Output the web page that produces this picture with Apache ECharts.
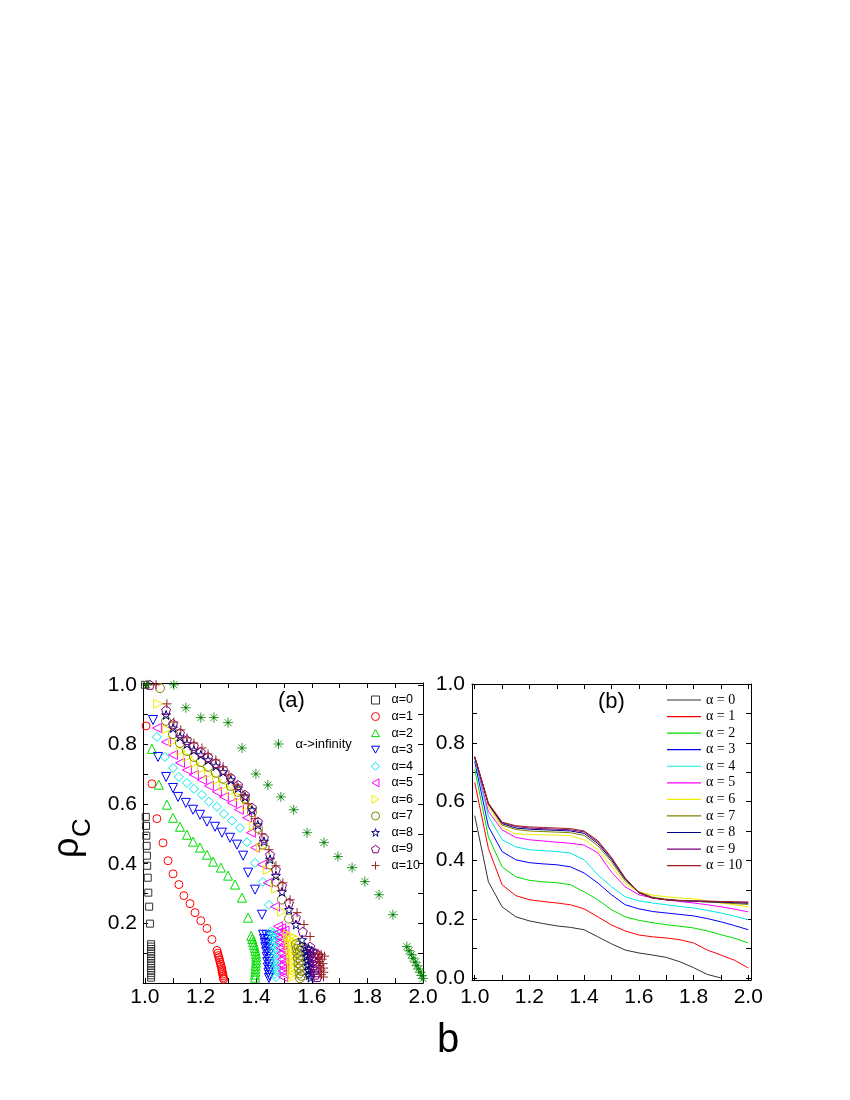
<!DOCTYPE html>
<html><head><meta charset="utf-8">
<script src="https://cdn.jsdelivr.net/npm/echarts@6/dist/echarts.min.js"></script>
<style>html,body{margin:0;padding:0;background:#fff}#c{width:850px;height:1100px}</style>
</head><body><div id="c"></div>
<script>
// ---------- Panel (a): scatter data [b, rho_C] ----------
const a0 = [[1.0,1.0],[1.003,0.557],[1.004,0.527],[1.005,0.494],[1.006,0.46],[1.007,0.427],[1.008,0.393],[1.01,0.353],[1.012,0.303],[1.015,0.256],[1.018,0.199],[1.022,0.13],[1.022,0.122],[1.022,0.114],[1.022,0.106],[1.022,0.098],[1.022,0.09],[1.022,0.082],[1.022,0.074],[1.022,0.066],[1.022,0.058],[1.022,0.05],[1.022,0.042],[1.022,0.034],[1.022,0.026],[1.022,0.018]];
const a1 = [[1.004,0.862],[1.025,0.668],[1.043,0.551],[1.065,0.47],[1.083,0.41],[1.101,0.366],[1.122,0.33],[1.14,0.293],[1.162,0.266],[1.18,0.236],[1.201,0.209],[1.223,0.183],[1.241,0.146],[1.259,0.109],[1.262,0.1],[1.264,0.092],[1.266,0.085],[1.268,0.078],[1.27,0.07],[1.272,0.063],[1.274,0.056],[1.276,0.049],[1.277,0.042],[1.278,0.036],[1.28,0.03],[1.281,0.024],[1.282,0.018],[1.283,0.013]];
const a2 = [[1.025,0.785],[1.05,0.665],[1.079,0.598],[1.101,0.554],[1.126,0.524],[1.151,0.497],[1.173,0.474],[1.198,0.454],[1.223,0.43],[1.245,0.407],[1.273,0.387],[1.299,0.36],[1.324,0.33],[1.349,0.286],[1.371,0.219],[1.382,0.158],[1.386,0.148],[1.389,0.138],[1.392,0.128],[1.395,0.118],[1.397,0.108],[1.399,0.098],[1.4,0.088],[1.4,0.078],[1.399,0.068],[1.398,0.058],[1.397,0.048],[1.397,0.038],[1.396,0.028],[1.396,0.018]];
const a3 = [[1.029,0.882],[1.047,0.758],[1.076,0.691],[1.101,0.654],[1.119,0.624],[1.147,0.604],[1.173,0.581],[1.198,0.564],[1.223,0.541],[1.252,0.524],[1.277,0.504],[1.306,0.487],[1.331,0.464],[1.353,0.427],[1.371,0.37],[1.396,0.313],[1.421,0.229],[1.425,0.162],[1.437,0.16],[1.449,0.156],[1.428,0.148],[1.441,0.145],[1.431,0.134],[1.443,0.13],[1.433,0.12],[1.445,0.115],[1.436,0.105],[1.446,0.098],[1.438,0.088],[1.447,0.08],[1.44,0.07],[1.448,0.062],[1.442,0.052],[1.448,0.044],[1.444,0.035],[1.448,0.026],[1.446,0.017]];
const a4 = [[1.043,0.825],[1.072,0.758],[1.101,0.721],[1.122,0.691],[1.151,0.671],[1.176,0.651],[1.205,0.631],[1.23,0.608],[1.259,0.591],[1.284,0.567],[1.313,0.544],[1.342,0.52],[1.367,0.472],[1.396,0.403],[1.424,0.339],[1.446,0.262],[1.452,0.172],[1.462,0.168],[1.472,0.162],[1.455,0.158],[1.466,0.152],[1.457,0.142],[1.468,0.136],[1.459,0.126],[1.47,0.118],[1.461,0.108],[1.471,0.1],[1.463,0.09],[1.472,0.08],[1.465,0.07],[1.472,0.06],[1.466,0.05],[1.472,0.04],[1.468,0.03],[1.471,0.02]];
const a5 = [[1.043,0.855],[1.076,0.808],[1.101,0.765],[1.126,0.738],[1.151,0.714],[1.176,0.698],[1.205,0.681],[1.23,0.661],[1.259,0.641],[1.284,0.624],[1.313,0.604],[1.338,0.581],[1.367,0.554],[1.381,0.504],[1.396,0.454],[1.421,0.397],[1.442,0.336],[1.468,0.256],[1.478,0.19],[1.49,0.184],[1.502,0.176],[1.481,0.17],[1.494,0.164],[1.484,0.152],[1.496,0.146],[1.486,0.136],[1.498,0.128],[1.488,0.118],[1.499,0.11],[1.49,0.1],[1.5,0.09],[1.492,0.08],[1.501,0.07],[1.493,0.06],[1.5,0.05],[1.495,0.04],[1.5,0.03],[1.497,0.02]];
const a6 = [[1.047,0.936],[1.079,0.851],[1.101,0.811],[1.129,0.778],[1.155,0.758],[1.18,0.738],[1.205,0.718],[1.23,0.701],[1.259,0.681],[1.284,0.661],[1.313,0.644],[1.338,0.624],[1.367,0.594],[1.392,0.527],[1.417,0.454],[1.442,0.379],[1.471,0.316],[1.493,0.239],[1.514,0.162],[1.526,0.158],[1.538,0.152],[1.517,0.148],[1.529,0.142],[1.52,0.132],[1.531,0.125],[1.522,0.115],[1.533,0.108],[1.524,0.098],[1.534,0.09],[1.526,0.08],[1.535,0.07],[1.528,0.06],[1.535,0.05],[1.529,0.04],[1.534,0.03],[1.531,0.02]];
const a7 = [[1.054,0.989],[1.076,0.879],[1.101,0.835],[1.126,0.805],[1.151,0.778],[1.176,0.758],[1.201,0.741],[1.227,0.725],[1.255,0.705],[1.281,0.685],[1.309,0.661],[1.335,0.641],[1.36,0.618],[1.385,0.573],[1.406,0.52],[1.424,0.464],[1.45,0.397],[1.471,0.34],[1.493,0.28],[1.518,0.216],[1.543,0.13],[1.553,0.125],[1.563,0.118],[1.546,0.115],[1.557,0.108],[1.548,0.1],[1.559,0.092],[1.55,0.083],[1.561,0.075],[1.552,0.066],[1.562,0.058],[1.554,0.049],[1.563,0.04],[1.556,0.032],[1.562,0.024],[1.558,0.016]];
const a8 = [[1.076,0.899],[1.101,0.855],[1.126,0.825],[1.151,0.802],[1.176,0.781],[1.201,0.765],[1.227,0.748],[1.255,0.728],[1.281,0.708],[1.309,0.681],[1.335,0.654],[1.36,0.624],[1.385,0.58],[1.406,0.53],[1.428,0.475],[1.45,0.415],[1.471,0.36],[1.493,0.306],[1.518,0.246],[1.543,0.196],[1.565,0.145],[1.577,0.12],[1.588,0.115],[1.598,0.108],[1.58,0.105],[1.591,0.098],[1.582,0.09],[1.593,0.082],[1.584,0.074],[1.595,0.066],[1.586,0.058],[1.596,0.05],[1.588,0.042],[1.597,0.034],[1.59,0.026],[1.596,0.018]];
const a9 = [[1.018,1.0],[1.076,0.915],[1.101,0.869],[1.126,0.838],[1.151,0.815],[1.176,0.795],[1.201,0.775],[1.227,0.758],[1.255,0.738],[1.281,0.715],[1.309,0.688],[1.335,0.664],[1.36,0.631],[1.385,0.588],[1.406,0.541],[1.428,0.487],[1.45,0.43],[1.471,0.38],[1.493,0.326],[1.518,0.269],[1.543,0.219],[1.568,0.172],[1.594,0.122],[1.602,0.105],[1.613,0.1],[1.624,0.094],[1.605,0.09],[1.616,0.084],[1.607,0.076],[1.618,0.068],[1.609,0.06],[1.62,0.052],[1.611,0.044],[1.621,0.036],[1.613,0.028],[1.62,0.02]];
const a10 = [[1.011,1.0],[1.04,1.0],[1.079,0.936],[1.104,0.875],[1.129,0.849],[1.151,0.822],[1.176,0.805],[1.205,0.788],[1.227,0.768],[1.255,0.748],[1.281,0.725],[1.302,0.698],[1.331,0.664],[1.356,0.631],[1.371,0.601],[1.396,0.551],[1.421,0.5],[1.446,0.447],[1.471,0.393],[1.496,0.336],[1.522,0.279],[1.547,0.236],[1.572,0.196],[1.594,0.156],[1.622,0.1],[1.634,0.096],[1.646,0.09],[1.625,0.086],[1.637,0.08],[1.628,0.072],[1.64,0.065],[1.63,0.058],[1.642,0.05],[1.633,0.043],[1.643,0.036],[1.635,0.028],[1.642,0.02]];
const aInf = [[1.007,1.0],[1.104,1.0],[1.147,0.923],[1.201,0.89],[1.248,0.89],[1.299,0.873],[1.349,0.788],[1.399,0.701],[1.442,0.664],[1.489,0.624],[1.535,0.581],[1.583,0.504],[1.644,0.471],[1.694,0.424],[1.745,0.387],[1.791,0.34],[1.842,0.296],[1.892,0.229],[1.942,0.122],[1.95,0.108],[1.958,0.095],[1.965,0.083],[1.972,0.07],[1.978,0.058],[1.984,0.047],[1.99,0.036],[1.995,0.025],[2.0,0.015]];

// ---------- Panel (b): line data ----------
const bGrid = [1.0,1.05,1.1,1.15,1.2,1.25,1.3,1.35,1.4,1.45,1.5,1.55,1.6,1.65,1.7,1.75,1.8,1.85,1.9,1.95,2.0];
const b0 = [0.552,0.327,0.242,0.208,0.194,0.185,0.177,0.172,0.164,0.14,0.116,0.095,0.085,0.078,0.07,0.055,0.035,0.012,0.0];
const b1 = [0.665,0.44,0.317,0.28,0.266,0.26,0.255,0.249,0.235,0.208,0.18,0.16,0.146,0.14,0.136,0.13,0.119,0.095,0.078,0.06,0.034];
const b2 = [0.71,0.48,0.378,0.344,0.332,0.327,0.324,0.317,0.293,0.266,0.232,0.208,0.196,0.188,0.181,0.176,0.17,0.16,0.147,0.135,0.119];
const b3 = [0.736,0.515,0.43,0.402,0.392,0.388,0.385,0.378,0.357,0.323,0.283,0.249,0.235,0.226,0.221,0.216,0.211,0.202,0.191,0.178,0.164];
const b4 = [0.745,0.55,0.47,0.446,0.436,0.433,0.43,0.425,0.402,0.351,0.31,0.276,0.262,0.255,0.249,0.243,0.238,0.23,0.221,0.21,0.198];
const b5 = [0.75,0.566,0.504,0.478,0.47,0.466,0.462,0.458,0.452,0.426,0.36,0.31,0.283,0.272,0.266,0.26,0.255,0.249,0.242,0.234,0.225];
const b6 = [0.755,0.583,0.512,0.49,0.488,0.487,0.486,0.484,0.47,0.436,0.38,0.32,0.293,0.282,0.276,0.272,0.269,0.262,0.255,0.249,0.242];
const b7 = [0.75,0.59,0.52,0.505,0.5,0.498,0.496,0.494,0.485,0.45,0.395,0.33,0.293,0.275,0.268,0.264,0.262,0.258,0.256,0.253,0.25];
const b8 = [0.752,0.592,0.525,0.51,0.506,0.504,0.502,0.5,0.492,0.457,0.402,0.336,0.29,0.272,0.266,0.263,0.261,0.259,0.258,0.256,0.254];
const b9 = [0.752,0.593,0.528,0.515,0.51,0.508,0.506,0.504,0.497,0.463,0.407,0.338,0.29,0.272,0.266,0.263,0.262,0.261,0.26,0.258,0.257];
const b10 = [0.753,0.595,0.53,0.518,0.514,0.512,0.51,0.508,0.5,0.467,0.41,0.34,0.29,0.272,0.266,0.263,0.262,0.261,0.26,0.259,0.258];

// ---------- names and ticks ----------
const namesA = ['α=0','α=1','α=2','α=3','α=4','α=5','α=6','α=7','α=8','α=9','α=10'];
const namesB = ['α = 0','α = 1','α = 2','α = 3','α = 4','α = 5','α = 6','α = 7','α = 8','α = 9','α = 10'];
const nameInf = 'α->infinity';
const xLabels = [1.0,1.2,1.4,1.6,1.8,2.0];
const xTicks = [1.0,1.1,1.2,1.3,1.4,1.5,1.6,1.7,1.8,1.9,2.0];
const yLabelsA = [0.2,0.4,0.6,0.8,1.0];
const yLabelsB = [0.0,0.2,0.4,0.6,0.8,1.0];
const yTicks = [0.0,0.1,0.2,0.3,0.4,0.5,0.6,0.7,0.8,0.9,1.0];

const colors = ['#333333','#ff0000','#00dd00','#0000ff','#00e8e8','#ff00ff','#eeee00','#808000','#000080','#800080','#992222'];
const colorInf = '#008000';

const SANS = "'Liberation Sans', Arial, sans-serif";
const SERIF = "'Liberation Serif', 'Times New Roman', serif";

const STAR = 'path://M50,0 L61,35 L98,35 L68,57 L79,91 L50,70 L21,91 L32,57 L2,35 L39,35 Z';
const PENT = 'path://M50,0 L98,35 L79,91 L21,91 L2,35 Z';
const PLUS = 'path://M50,0 L50,100 M0,50 L100,50';
const ASTER = 'path://M50,0 L50,100 M0,50 L100,50 M15,15 L85,85 M85,15 L15,85 M42,50 A8,8 0 1 1 58,50 A8,8 0 1 1 42,50 Z';
const TRI_UP = 'path://M50,0 L100,87 L0,87 Z';
const TRI_DN = 'path://M0,0 L100,0 L50,87 Z';
const TRI_LT = 'path://M87,0 L87,100 L0,50 Z';
const TRI_RT = 'path://M0,0 L0,100 L87,50 Z';

const symA = [
  {symbol:'rect', size:7},
  {symbol:'circle', size:8},
  {symbol:TRI_UP, size:9},
  {symbol:TRI_DN, size:9},
  {symbol:'diamond', size:9},
  {symbol:TRI_LT, size:9},
  {symbol:TRI_RT, size:9},
  {symbol:'circle', size:9},
  {symbol:STAR, size:9},
  {symbol:PENT, size:9},
  {symbol:PLUS, size:9}
];
const dataA = [a0,a1,a2,a3,a4,a5,a6,a7,a8,a9,a10];
const dataB = [b0,b1,b2,b3,b4,b5,b6,b7,b8,b9,b10];

const series = [];
dataA.forEach((d,i)=>{
  series.push({
    name: namesA[i], type:'scatter', xAxisIndex:0, yAxisIndex:0,
    symbol: symA[i].symbol, symbolSize: symA[i].size,
    itemStyle:{color:'rgba(0,0,0,0)', borderColor: colors[i], borderWidth:1, opacity:1},
    data: d, clip:false
  });
});
series.push({
  name: nameInf, type:'scatter', xAxisIndex:0, yAxisIndex:0,
  symbol: ASTER, symbolSize: 10,
  itemStyle:{color: colorInf, borderColor: colorInf, borderWidth:1},
  data: aInf, clip:false
});
dataB.forEach((d,i)=>{
  series.push({
    name: namesB[i], type:'line', xAxisIndex:2, yAxisIndex:2,
    symbol:'none', showSymbol:false,
    lineStyle:{color: colors[i], width:1},
    itemStyle:{color: colors[i]},
    data: d.map((v,k)=>[bGrid[k], v])
  });
});

function xAx(grid, pos, min, max, showLabel, margin){
  return {
    type:'value', gridIndex:grid, position:pos, min:min, max:max,
    axisLine:{show:true, onZero:false, lineStyle:{color:'#000', width:1}},
    axisTick:{show:true, inside:true, length:5, customValues:xTicks, lineStyle:{color:'#000'}},
    axisLabel:{show:showLabel, customValues:xLabels, formatter:v=>v.toFixed(1), fontSize:21, fontFamily:SANS, color:'#000', margin:margin},
    splitLine:{show:false}
  };
}
function yAx(grid, pos, min, max, showLabel, labels, margin){
  return {
    type:'value', gridIndex:grid, position:pos, min:min, max:max,
    axisLine:{show:true, onZero:false, lineStyle:{color:'#000', width:1}},
    axisTick:{show:true, inside:true, length:5, customValues:yTicks, lineStyle:{color:'#000'}},
    axisLabel:{show:showLabel, customValues:labels, formatter:v=>v.toFixed(1), fontSize:21, fontFamily:SANS, color:'#000', margin:margin},
    splitLine:{show:false}
  };
}

const legendA = namesA.map((n,i)=>({name:n, icon:symA[i].symbol,
  itemStyle:{color:'rgba(0,0,0,0)', borderColor:colors[i], borderWidth:1}}));
const legendB = namesB.map((n,i)=>({name:n, icon:'rect',
  itemStyle:{color:colors[i], borderWidth:0}}));

const option = {
  animation:false,
  backgroundColor:'#fff',
  grid:[
    {left:143, top:683, width:280, height:300},
    {left:472, top:684, width:279, height:296}
  ],
  xAxis:[
    xAx(0,'bottom',0.993,2.0,true,4),
    xAx(0,'top',0.993,2.0,false,4),
    xAx(1,'bottom',0.99,2.01,true,7),
    xAx(1,'top',0.99,2.01,false,7)
  ],
  yAxis:[
    yAx(0,'left',0,1.006,true,yLabelsA,6),
    yAx(0,'right',0,1.006,false,yLabelsA,6),
    yAx(1,'left',-0.007,1.0,true,yLabelsB,7),
    yAx(1,'right',-0.007,1.0,false,yLabelsB,7)
  ],
  legend:[
    {data:legendA, orient:'vertical', left:366, top:687, itemWidth:8, itemHeight:8, itemGap:0.56,
     selectedMode:false,
     textStyle:{fontSize:12.5, lineHeight:16, fontFamily:SANS, color:'#000', padding:[0,0,0,7]}},
    {data:[{name:nameInf, icon:ASTER, itemStyle:{color:colorInf, borderColor:colorInf, borderWidth:1}}],
     orient:'vertical', left:268, top:731, itemWidth:10, itemHeight:10,
     selectedMode:false,
     textStyle:{fontSize:13, lineHeight:16, fontFamily:SANS, color:'#000', padding:[0,0,0,7]}},
    {data:legendB, orient:'vertical', left:662, top:687, itemWidth:34, itemHeight:1.2, itemGap:0.56,
     selectedMode:false,
     textStyle:{fontSize:14, lineHeight:16, fontFamily:SERIF, color:'#000'}}
  ],
  graphic:[
    {type:'text', left:278, top:690, style:{text:'(a)', font:'22px '+SANS, fill:'#000'}},
    {type:'text', left:598, top:691, style:{text:'(b)', font:'22px '+SANS, fill:'#000'}},
    {type:'text', x:448, y:1041, style:{text:'b', font:'40px '+SANS, fill:'#000', align:'center', verticalAlign:'middle'}},
    {type:'group', x:68, y:858, rotation:Math.PI/2, children:[
      {type:'text', x:0, y:0, style:{text:'ρ', font:'36px '+SANS, fill:'#000', align:'left', verticalAlign:'middle'}},
      {type:'text', x:21, y:15, style:{text:'C', font:'26px '+SANS, fill:'#000', align:'left', verticalAlign:'middle'}}
    ]}
  ],
  series: series
};
const chart = echarts.init(document.getElementById('c'), null, {renderer:'canvas'});
chart.setOption(option);
</script>
</body></html>
